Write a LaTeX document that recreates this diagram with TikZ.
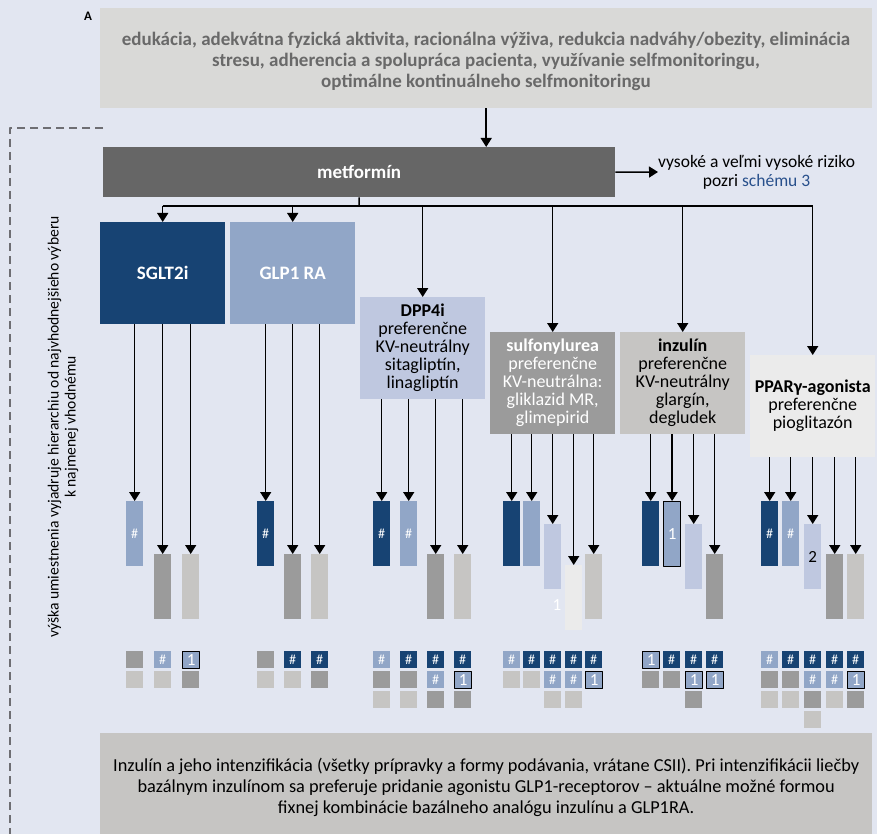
\documentclass[tikz,border=0pt]{standalone}
\usepackage{fontspec}
\setmainfont{Carlito}
\usetikzlibrary{arrows.meta}
\definecolor{bgcol}{RGB}{226,230,241}
\definecolor{topgray}{RGB}{217,217,215}
\definecolor{toptext}{RGB}{105,105,105}
\definecolor{metgray}{RGB}{102,102,102}
\definecolor{dblue}{RGB}{23,67,115}
\definecolor{lblue}{RGB}{145,166,199}
\definecolor{xblue}{RGB}{191,200,224}
\definecolor{dgray}{RGB}{155,155,155}
\definecolor{lgray}{RGB}{198,197,195}
\definecolor{xgray}{RGB}{235,235,235}
\definecolor{linkblue}{RGB}{40,80,140}
\definecolor{dashgray}{RGB}{110,110,115}
\tikzset{
  box/.style={anchor=north west,inner sep=0pt,align=center,minimum width=125pt,minimum height=102pt,font=\fontsize{18}{18}\selectfont},
  bar/.style={anchor=north west,inner sep=0pt,minimum width=17pt,minimum height=65pt,text=white,font=\fontsize{14}{14}\selectfont},
  sq/.style={anchor=north west,inner sep=0pt,minimum size=17pt,text=white,font=\fontsize{14}{14}\selectfont},
  one/.style={fill=lblue,draw=black,line width=1.2pt,font=\fontsize{17}{17}\selectfont},
  link/.style={line width=1.5pt},
  feed/.style={line width=1.5pt,-{Triangle[width=11pt,length=9pt]}}
}

\begin{document}
\begin{tikzpicture}[x=1pt,y=-1pt,join=round] % Treatment scheme
         \fill[bgcol] (0,0) rectangle (877,834);
         \useasboundingbox (0,0) rectangle (877,834);
         \node[font=\bfseries\fontsize{13}{13}\selectfont] (panel) at (88,16) {A};
         \node[anchor=north west,inner sep=0pt,fill=topgray,minimum width=772pt,minimum height=100pt] (life) at (100,8) {};
         \node[align=center,inner sep=0pt,text=toptext,font=\bfseries\fontsize{19}{21}\selectfont] (lifetext) at (486,61)
               {edukácia, adekvátna fyzická aktivita, racionálna výživa, redukcia nadváhy/obezity, eliminácia\\
                stresu, adherencia a spolupráca pacienta, využívanie selfmonitoringu,\\
                optimálne kontinuálneho selfmonitoringu};
         \node[anchor=north west,inner sep=0pt,fill=metgray,minimum width=512pt,minimum height=50pt,text=white,font=\bfseries\fontsize{19}{19}\selectfont] (met) at (103,147) {metformín};
         \node[anchor=west,inner sep=0pt,align=center,font=\fontsize{17.5}{19}\selectfont] (risk) at (658,172)
               {vysoké a veľmi vysoké riziko\\pozri \textcolor{linkblue}{schému 3}};
         \draw[feed] (life.south) -- (life.south |- met.north);
         \draw[feed] (met.east) -- (risk.west);
         % dashed hierarchy mark
         \coordinate (dtop) at (103,128);
         \coordinate (dcorner) at (10,128);
         \coordinate (dend) at (10,834);
         \draw[dashgray,line width=1.3pt,dash pattern=on 8pt off 5pt] (dtop) -- (dcorner) -- (dend);
         \node[rotate=90,align=center,font=\fontsize{15.6}{17}\selectfont] (scale) at (63,427)
               {výška umiestnenia vyjadruje hierarchiu od najvhodnejšieho výberu\\k najmenej vhodnému};
         % drug classes
         \node[box,fill=dblue,text=white,font=\bfseries\fontsize{19}{19}\selectfont] (sglt) at (100,222) {SGLT2i};
         \node[box,fill=lblue,text=white,font=\bfseries\fontsize{19}{19}\selectfont] (glp) at (230,222) {GLP1 RA};
         \node[box,fill=xblue] (dpp) at (360,297) {\textbf{DPP4i}\\preferenčne\\KV-neutrálny\\sitagliptín,\\linagliptín};
         \node[box,fill=dgray,text=white] (sulf) at (490,332) {\textbf{sulfonylurea}\\preferenčne\\KV-neutrálna:\\gliklazid MR,\\glimepirid};
         \node[box,fill=lgray] (inz) at (620,332) {\textbf{inzulín}\\preferenčne\\KV-neutrálny\\glargín,\\degludek};
         \node[box,fill=xgray] (ppar) at (750,355) {\textbf{PPARγ-agonista}\\preferenčne\\pioglitazón};
         \coordinate (bus) at (359,206);
         \draw[link] (met.south) -- (bus);
         \draw[link] (sglt.north |- bus) -- (ppar.north |- bus);
         \draw[feed] (sglt.north |- bus) -- (sglt.north);
         \draw[feed] (glp.north |- bus) -- (glp.north);
         \draw[feed] (dpp.north |- bus) -- (dpp.north);
         \draw[feed] (sulf.north |- bus) -- (sulf.north);
         \draw[feed] (inz.north |- bus) -- (inz.north);
         \draw[feed] (ppar.north |- bus) -- (ppar.north);
         % combination bars
         \path (126,501) node[bar,fill=lblue] (s1) {\#}
               (154,554) node[bar,fill=dgray] (s2) {}
               (182,554) node[bar,fill=lgray] (s3) {};
         \path (257,501) node[bar,fill=dblue] (g1) {\#}
               (284,554) node[bar,fill=dgray] (g2) {}
               (311,554) node[bar,fill=lgray] (g3) {};
         \path (373,501) node[bar,fill=dblue] (d1) {\#}
               (400,501) node[bar,fill=lblue] (d2) {\#}
               (427,554) node[bar,fill=dgray] (d3) {}
               (454,554) node[bar,fill=lgray] (d4) {};
         \path (503,501) node[bar,fill=dblue] (u1) {}
               (523,501) node[bar,fill=lblue] (u2) {}
               (544,524) node[bar,fill=xblue] (u3) {}
               (565,565) node[bar,fill=xgray] (u4) {}
               (585,554) node[bar,fill=lgray] (u5) {};
         \node[text=white,font=\fontsize{17}{17}\selectfont] (ustray) at (557,605) {1};
         \path (642,501) node[bar,fill=dblue] (i1) {}
               (663,501) node[bar,one] (i2) {1}
               (685,524) node[bar,fill=xblue] (i3) {}
               (706,554) node[bar,fill=dgray] (i4) {};
         \path (761,501) node[bar,fill=dblue] (p1) {\#}
               (782,501) node[bar,fill=lblue] (p2) {\#}
               (804,524) node[bar,fill=xblue,text=black,font=\fontsize{17}{17}\selectfont] (p3) {2}
               (826,554) node[bar,fill=dgray] (p4) {}
               (847,554) node[bar,fill=lgray] (p5) {};
         \draw[feed] (sglt.south -| s1.north) -- (s1.north);
         \draw[feed] (sglt.south -| s2.north) -- (s2.north);
         \draw[feed] (sglt.south -| s3.north) -- (s3.north);
         \draw[feed] (glp.south -| g1.north) -- (g1.north);
         \draw[feed] (glp.south -| g2.north) -- (g2.north);
         \draw[feed] (glp.south -| g3.north) -- (g3.north);
         \draw[feed] (dpp.south -| d1.north) -- (d1.north);
         \draw[feed] (dpp.south -| d2.north) -- (d2.north);
         \draw[feed] (dpp.south -| d3.north) -- (d3.north);
         \draw[feed] (dpp.south -| d4.north) -- (d4.north);
         \draw[feed] (sulf.south -| u1.north) -- (u1.north);
         \draw[feed] (sulf.south -| u2.north) -- (u2.north);
         \draw[feed] (sulf.south -| u3.north) -- (u3.north);
         \draw[feed] (sulf.south -| u4.north) -- (u4.north);
         \draw[feed] (sulf.south -| u5.north) -- (u5.north);
         \draw[feed] (inz.south -| i1.north) -- (i1.north);
         \draw[feed] (inz.south -| i2.north) -- (i2.north);
         \draw[feed] (inz.south -| i3.north) -- (i3.north);
         \draw[feed] (inz.south -| i4.north) -- (i4.north);
         \draw[feed] (ppar.south -| p1.north) -- (p1.north);
         \draw[feed] (ppar.south -| p2.north) -- (p2.north);
         \draw[feed] (ppar.south -| p3.north) -- (p3.north);
         \draw[feed] (ppar.south -| p4.north) -- (p4.north);
         \draw[feed] (ppar.south -| p5.north) -- (p5.north);
         % triple combinations
         \path (126,651) node[sq,fill=dgray] (s1a) {}
               (154,651) node[sq,fill=lblue] (s2a) {\#}
               (182,651) node[sq,one] (s3a) {1}
               (126,671) node[sq,fill=lgray] (s1b) {}
               (154,671) node[sq,fill=lgray] (s2b) {}
               (182,671) node[sq,fill=dgray] (s3b) {};
         \path (257,651) node[sq,fill=dgray] (g1a) {}
               (284,651) node[sq,fill=dblue] (g2a) {\#}
               (311,651) node[sq,fill=dblue] (g3a) {\#}
               (257,671) node[sq,fill=lgray] (g1b) {}
               (284,671) node[sq,fill=lgray] (g2b) {}
               (311,671) node[sq,fill=dgray] (g3b) {};
         \path (373,651) node[sq,fill=lblue] (d1a) {\#}
               (400,651) node[sq,fill=dblue] (d2a) {\#}
               (427,651) node[sq,fill=dblue] (d3a) {\#}
               (454,651) node[sq,fill=dblue] (d4a) {\#}
               (373,671) node[sq,fill=dgray] (d1b) {}
               (400,671) node[sq,fill=dgray] (d2b) {}
               (427,671) node[sq,fill=lblue] (d3b) {\#}
               (454,671) node[sq,one] (d4b) {1}
               (373,691) node[sq,fill=lgray] (d1c) {}
               (400,691) node[sq,fill=lgray] (d2c) {}
               (427,691) node[sq,fill=dgray] (d3c) {}
               (454,691) node[sq,fill=dgray] (d4c) {};
         \path (503,651) node[sq,fill=lblue] (u1a) {\#}
               (523,651) node[sq,fill=dblue] (u2a) {\#}
               (544,651) node[sq,fill=dblue] (u3a) {\#}
               (565,651) node[sq,fill=dblue] (u4a) {\#}
               (585,651) node[sq,fill=dblue] (u5a) {\#}
               (503,671) node[sq,fill=lgray] (u1b) {}
               (523,671) node[sq,fill=lgray] (u2b) {}
               (544,671) node[sq,fill=lblue] (u3b) {\#}
               (565,671) node[sq,fill=lblue] (u4b) {\#}
               (585,671) node[sq,one] (u5b) {1}
               (544,691) node[sq,fill=lgray] (u3c) {}
               (565,691) node[sq,fill=lgray] (u4c) {};
         \path (642,651) node[sq,one] (i1a) {1}
               (663,651) node[sq,fill=dblue] (i2a) {\#}
               (685,651) node[sq,fill=dblue] (i3a) {\#}
               (706,651) node[sq,fill=dblue] (i4a) {\#}
               (642,671) node[sq,fill=dgray] (i1b) {}
               (663,671) node[sq,fill=dgray] (i2b) {}
               (685,671) node[sq,one] (i3b) {1}
               (706,671) node[sq,one] (i4b) {1}
               (685,691) node[sq,fill=dgray] (i3c) {};
         \path (761,651) node[sq,fill=lblue] (p1a) {\#}
               (782,651) node[sq,fill=dblue] (p2a) {\#}
               (804,651) node[sq,fill=dblue] (p3a) {\#}
               (826,651) node[sq,fill=dblue] (p4a) {\#}
               (847,651) node[sq,fill=dblue] (p5a) {\#}
               (761,671) node[sq,fill=dgray] (p1b) {}
               (782,671) node[sq,fill=dgray] (p2b) {}
               (804,671) node[sq,fill=lblue] (p3b) {\#}
               (826,671) node[sq,fill=lblue] (p4b) {\#}
               (847,671) node[sq,one] (p5b) {1}
               (761,691) node[sq,fill=lgray] (p1c) {}
               (782,691) node[sq,fill=lgray] (p2c) {}
               (804,691) node[sq,fill=dgray] (p3c) {}
               (826,691) node[sq,fill=lgray] (p4c) {}
               (847,691) node[sq,fill=dgray] (p5c) {}
               (804,711) node[sq,fill=lgray] (p3d) {};
         \node[anchor=north west,inner sep=0pt,fill=lgray,minimum width=772pt,minimum height=108pt,align=center,font=\fontsize{18.3}{21}\selectfont] (insulin) at (100,733)
               {Inzulín a jeho intenzifikácia (všetky prípravky a formy podávania, vrátane CSII). Pri intenzifikácii liečby\\
                bazálnym inzulínom sa preferuje pridanie agonistu GLP1-receptorov – aktuálne možné formou\\
                fixnej kombinácie bazálneho analógu inzulínu a GLP1RA.};
      \end{tikzpicture}
\end{document}
